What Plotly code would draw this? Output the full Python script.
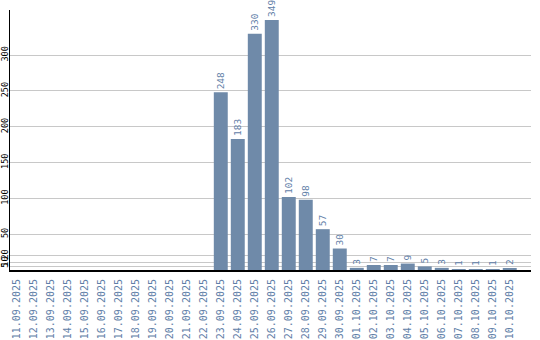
import plotly.graph_objects as go

dates = ["11.09.2025", "12.09.2025", "13.09.2025", "14.09.2025", "15.09.2025",
         "16.09.2025", "17.09.2025", "18.09.2025", "19.09.2025", "20.09.2025",
         "21.09.2025", "22.09.2025", "23.09.2025", "24.09.2025", "25.09.2025",
         "26.09.2025", "27.09.2025", "28.09.2025", "29.09.2025", "30.09.2025",
         "01.10.2025", "02.10.2025", "03.10.2025", "04.10.2025", "05.10.2025",
         "06.10.2025", "07.10.2025", "08.10.2025", "09.10.2025", "10.10.2025"]
values = [0, 0, 0, 0, 0, 0, 0, 0, 0, 0, 0, 0,
          248, 183, 330, 349, 102, 98, 57, 30,
          3, 7, 7, 9, 5, 3, 1, 1, 1, 2]
y_ticks = [5, 10, 20, 50, 100, 150, 200, 250, 300]

bar_color = "#6f8aa9"
text_color = "#5f80a8"
mono = "DejaVu Sans Mono"

labels = [str(v) if v > 0 else "" for v in values]
xs = list(range(len(dates)))

fig = go.Figure(go.Bar(
    x=xs, y=values, text=labels, textposition="outside", textangle=-90,
    constraintext="none",
    marker=dict(color=bar_color, line=dict(width=0)),
    textfont=dict(family=mono, size=9.5, color=text_color),
    cliponaxis=False,
))

fig.update_layout(
    width=540, height=340,
    margin=dict(l=10, r=9, t=10, b=70, autoexpand=False),
    plot_bgcolor="white", paper_bgcolor="white",
    bargap=0.18, showlegend=False,
    font=dict(family=mono),
)
fig.update_xaxes(
    range=[-0.4, 30.25], tickmode="array", tickvals=xs, ticktext=dates,
    tickangle=-90, tickfont=dict(family=mono, size=10, color=text_color),
    showline=True, linecolor="black", linewidth=2, showgrid=False,
    ticks="", zeroline=False, automargin=False, ticklabelstandoff=3,
)
fig.update_yaxes(
    range=[0, 363], tickmode="array", tickvals=y_ticks,
    ticktext=[str(t) for t in y_ticks], tickangle=-90,
    tickfont=dict(family=mono, size=8.5, color="black"),
    showline=True, linecolor="black", linewidth=1,
    showgrid=True, gridcolor="#c8c8c8", gridwidth=1,
    ticks="", zeroline=False, automargin=False, ticklabelstandoff=-2,
)

fig.write_html("out.html")
